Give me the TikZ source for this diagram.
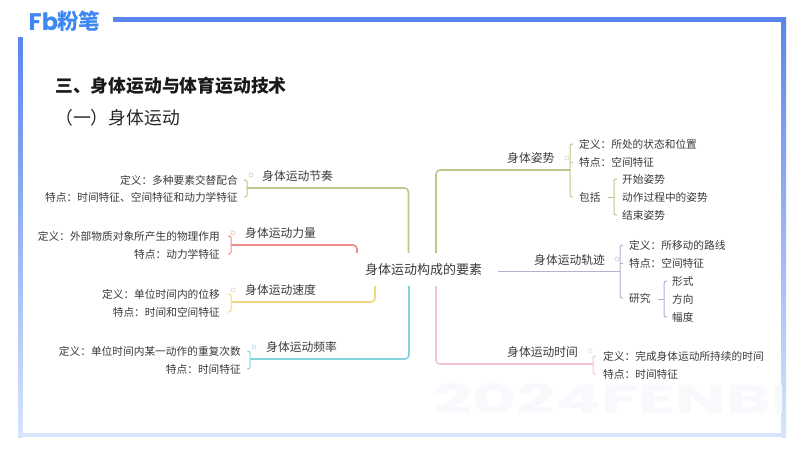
\documentclass[tikz,border=0pt]{standalone}
\usepackage{fontspec}
\setmainfont{Noto Sans CJK SC}
\newfontfamily\logofont{Poppins}[BoldFont={Poppins Bold}]
\usetikzlibrary{calc}
\definecolor{barblue}{HTML}{5B85EE}
\definecolor{barpale}{HTML}{D8E4FC}
\definecolor{logoblue}{HTML}{3F88F2}
\definecolor{ink}{HTML}{3A3A3A}
\definecolor{cgreen}{HTML}{BCC98C}
\definecolor{cred}{HTML}{EC8C88}
\definecolor{cyellow}{HTML}{F5D684}
\definecolor{ccyan}{HTML}{86D2DE}
\definecolor{cpurple}{HTML}{B4B0D2}
\definecolor{cpink}{HTML}{F6C4DA}
\definecolor{wmark}{HTML}{F7F9FC}
\tikzset{
  lab/.style={inner sep=0pt,text=ink,text height=10pt,text depth=1pt,font=\fontsize{10.7}{12}\selectfont},
  labl/.style={lab,anchor=west},
  labr/.style={lab,anchor=east},
  branch/.style={inner sep=0pt,text=ink,text height=10.5pt,text depth=1pt,anchor=west,font=\fontsize{11.8}{13}\selectfont},
  main/.style={draw=#1,line width=1.6pt,rounded corners=4pt},
  brk/.style={draw=#1,line width=1pt,rounded corners=2pt},
  dot/.style={draw=#1,line width=.6pt,circle,inner sep=0pt,minimum size=4pt,fill=white}
}
\begin{document}
\begin{tikzpicture}[x=1pt,y=-1pt]
\useasboundingbox (0,0) rectangle (800,450);
\fill[white] (0,0) rectangle (800,450);
% frame
\fill[barblue] (113,17) rectangle (786,22);
\shade[top color=barblue,bottom color=barpale] (18,37) rectangle (22.5,437);
\shade[top color=barblue,bottom color=barpale] (781.5,17) rectangle (786,437);
\fill[barpale] (18,432.5) rectangle (786,437);
% watermark
\begin{scope}
\clip (433,383) rectangle (781,416);
\node[anchor=west,inner sep=0pt,text=wmark,xscale=1.7,font=\logofont\bfseries\fontsize{40}{40}\selectfont] (wm) at (433,399) {2024FENBI};
\end{scope}
% logo
\node[anchor=west,inner sep=0pt,text=logoblue,font=\logofont\bfseries\fontsize{24}{24}\selectfont] (logofb) at (28.5,21.5) {Fb};
\node[anchor=west,inner sep=0pt,text=logoblue,font=\bfseries\fontsize{21.5}{22}\selectfont] (logocn) at (57,21.5) {粉笔};
% titles
\node[anchor=west,inner sep=0pt,text=black!90,font=\bfseries\fontsize{17.8}{20}\selectfont] (title) at (55,86) {三、身体运动与体育运动技术};
\node[anchor=west,inner sep=0pt,text=black!85,font=\fontsize{17.8}{20}\selectfont] (subtitle) at (55,118) {（一）身体运动};
% centre
\node[minimum width=149pt,minimum height=33pt,inner sep=0pt,text=ink,font=\fontsize{13}{15}\selectfont] (c) at (423.5,269.5) {身体运动构成的要素};
% left branches
\node[branch] (b1) at (262,176) {身体运动节奏};
\node[branch] (b2) at (245,233) {身体运动力量};
\node[branch] (b3) at (245,290) {身体运动速度};
\node[branch] (b4) at (266,347) {身体运动频率};
\node[labr] (b1a) at (238,180) {定义：多种要素交替配合};
\node[labr] (b1b) at (238,197) {特点：时间特征、空间特征和动力学特征};
\node[labr] (b2a) at (220,236) {定义：外部物质对象所产生的物理作用};
\node[labr] (b2b) at (220,254) {特点：动力学特征};
\node[labr] (b3a) at (220,294) {定义：单位时间内的位移};
\node[labr] (b3b) at (220,312) {特点：时间和空间特征};
\node[labr] (b4a) at (241,351) {定义：单位时间内某一动作的重复次数};
\node[labr] (b4b) at (241,369) {特点：时间特征};
% right branches
\node[branch] (r1) at (507,158) {身体姿势};
\node[branch] (r2) at (534,260) {身体运动轨迹};
\node[branch] (r3) at (507,352) {身体运动时间};
\node[labl] (r1a) at (579,144) {定义：所处的状态和位置};
\node[labl] (r1b) at (579,162) {特点：空间特征};
\node[labl] (r1c) at (579,197) {包括};
\node[labl] (r1d) at (622,179) {开始姿势};
\node[labl] (r1e) at (622,197) {动作过程中的姿势};
\node[labl] (r1f) at (622,215) {结束姿势};
\node[labl] (r2a) at (629,245) {定义：所移动的路线};
\node[labl] (r2b) at (629,263) {特点：空间特征};
\node[labl] (r2c) at (629,298) {研究};
\node[labl] (r2d) at (672,281) {形式};
\node[labl] (r2e) at (672,299) {方向};
\node[labl] (r2f) at (672,317) {幅度};
\node[labl] (r3a) at (603,356) {定义：完成身体运动所持续的时间};
\node[labl] (r3b) at (603,374) {特点：时间特征};
% junctions
\coordinate (j1) at (247,188);
\coordinate (j2) at (231,245);
\coordinate (j3) at (231,302);
\coordinate (j4) at (250,359);
\coordinate (k1) at (570,170);
\coordinate (k2) at (620,271.5);
\coordinate (k3) at (593,364);
\coordinate (k1s) at (614,197);
\coordinate (k2s) at (664,299);
\coordinate (m1) at (408.5,0);
\coordinate (m2) at (357,0);
\coordinate (m3) at (375,0);
\coordinate (m4) at (409,0);
\coordinate (m5) at (436,0);
% main connectors
\draw[main=cgreen] (c.north -| m1) |- (j1);
\draw[main=cred] (c.north -| m2) |- (j2);
\draw[main=cyellow] (c.south -| m3) |- (j3);
\draw[main=ccyan] (c.south -| m4) |- (j4);
\draw[main=cgreen] (c.north -| m5) |- (k1);
\draw[main=cpurple] (c.east |- k2) -- (k2);
\draw[main=cpink] (c.south -| m5) |- (k3);
% brackets, left
\draw[brk=cgreen] ($(b1a.east -| j1)+(-3,0)$) -| (j1) |- ($(b1b.east -| j1)+(-3,0)$);
\draw[brk=cred] ($(b2a.east -| j2)+(-3,0)$) -| (j2) |- ($(b2b.east -| j2)+(-3,0)$);
\draw[brk=cyellow] ($(b3a.east -| j3)+(-3,0)$) -| (j3) |- ($(b3b.east -| j3)+(-3,0)$);
\draw[brk=ccyan] ($(b4a.east -| j4)+(-3,0)$) -| (j4) |- ($(b4b.east -| j4)+(-3,0)$);
% brackets, right
\draw[brk=cgreen] ($(r1a.west -| k1)+(3,0)$) -| (k1) |- ($(r1c.west -| k1)+(3,0)$);
\draw[brk=cgreen] ($(r1b.west -| k1)+(0,0)$) -- ($(r1b.west -| k1)+(3,0)$);
\draw[brk=cgreen] ($(r1d.west -| k1s)+(3,0)$) -| (k1s) |- ($(r1f.west -| k1s)+(3,0)$);
\draw[brk=cgreen] ($(k1s)+(-6,0)$) -- (k1s);
\draw[brk=cpurple] ($(r2a.west -| k2)+(3,0)$) -| (k2) |- ($(r2c.west -| k2)+(3,0)$);
\draw[brk=cpurple] ($(r2b.west -| k2)+(0,0)$) -- ($(r2b.west -| k2)+(3,0)$);
\draw[brk=cpurple] ($(r2d.west -| k2s)+(3,0)$) -| (k2s) |- ($(r2f.west -| k2s)+(3,0)$);
\draw[brk=cpurple] ($(k2s)+(-6,0)$) -- (k2s);
\draw[brk=cpink] ($(r3a.west -| k3)+(3,0)$) -| (k3) |- ($(r3b.west -| k3)+(3,0)$);
% small collapse dots
\node[dot=black!20] (d1) at (251,175) {};
\node[dot=cred!60] (d2) at (233,233) {};
\node[dot=cyellow!70!black!40] (d3) at (233,290) {};
\node[dot=ccyan!70] (d4) at (254,347) {};
\node[dot=cgreen!60] (d5) at (567,158) {};
\node[dot=cpurple!70] (d6) at (617,259) {};
\node[dot=cpink!70] (d7) at (590,351) {};
\end{tikzpicture}
\end{document}
